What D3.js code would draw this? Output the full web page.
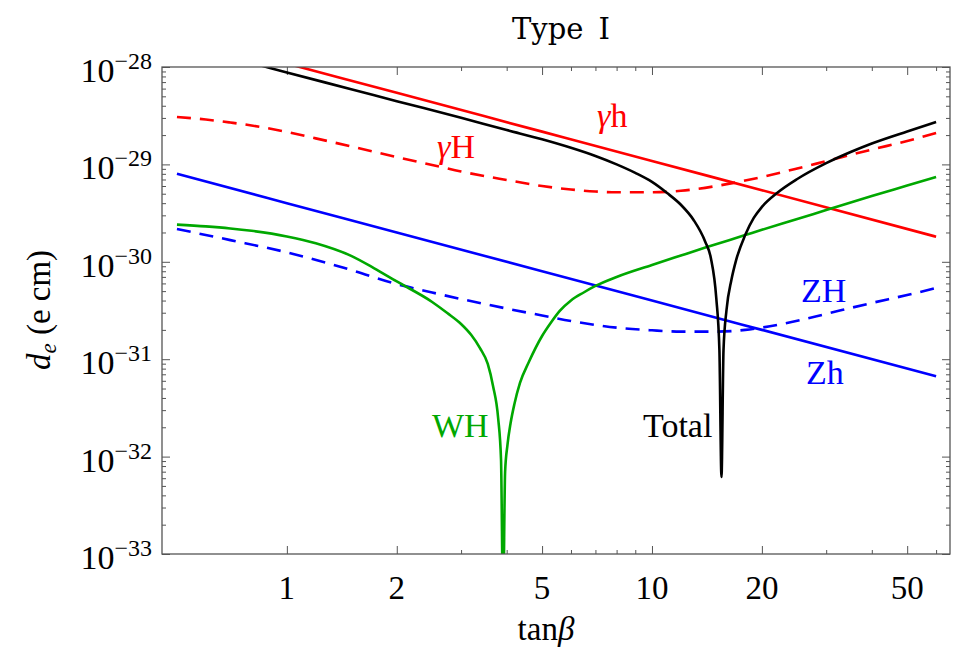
<!DOCTYPE html>
<html>
<head>
<meta charset="utf-8">
<script src="https://cdn.jsdelivr.net/npm/d3@7"></script>
<style>
  html, body { margin: 0; padding: 0; background: #fff; }
  svg { display: block; }
  text { font-family: "Liberation Serif", "Times New Roman", serif; }
</style>
</head>
<body>
<svg id="chart" width="962" height="650"></svg>
<script>
// ---------------- data ----------------
const title = "Type I";
const xTickMajor = [1, 2, 5, 10, 20, 50];
const xTickMinor = [3, 4, 6, 7, 8, 9, 30, 40, 60];
const yTickExp = [-28, -29, -30, -31, -32, -33];

// gamma h (solid red)
const gammaH_t = [0.5, 1, 2, 5, 10, 20, 60];
const gammaH_v = [2.17e-28, 1.085e-28, 5.43e-29, 2.17e-29, 1.085e-29, 5.43e-30, 1.81e-30];

// gamma H (dashed red)
const gammaHH_t = [0.5, 0.6, 0.7, 0.8, 1, 1.2, 1.5, 2, 2.5, 3, 4, 5, 6, 7, 8, 10, 12, 15, 20, 25, 30, 40, 50, 60];
const gammaHH_v = [3.07e-29, 2.89e-29, 2.69e-29, 2.51e-29, 2.15e-29, 1.85e-29, 1.53e-29, 1.19e-29, 9.86e-30, 8.45e-30,
                   6.92e-30, 6.00e-30, 5.52e-30, 5.27e-30, 5.17e-30, 5.17e-30, 5.36e-30, 6.00e-30, 7.43e-30, 9.08e-30,
                   1.08e-29, 1.42e-29, 1.74e-29, 2.10e-29];

// Z h (solid blue)
const Zh_t = [0.5, 1, 2, 5, 10, 20, 60];
const Zh_v = [8.0e-30, 4.0e-30, 2.0e-30, 8.0e-31, 4.0e-31, 2.0e-31, 6.67e-32];

// Z H (dashed blue)
const ZH_t = [0.5, 0.7, 1, 1.5, 2, 2.5, 3, 4, 5, 6, 8, 10, 12, 15, 18, 20, 25, 30, 40, 50, 60];
const ZH_v = [2.17e-30, 1.67e-30, 1.25e-30, 8.24e-31, 5.91e-31, 4.84e-31, 4.15e-31, 3.31e-31, 2.81e-31, 2.47e-31,
              2.11e-31, 1.98e-31, 1.92e-31, 1.92e-31, 2.00e-31, 2.11e-31, 2.48e-31, 2.92e-31, 3.78e-31, 4.56e-31, 5.38e-31];

// W H (green)
const WH_t = [0.5, 0.6, 0.7, 0.8, 1, 1.2, 1.5, 1.73, 2, 2.5, 2.75, 3, 3.2, 3.38, 3.55, 3.67, 3.79, 3.86, 3.91, 3.96, 4.02,
              4.1, 4.2, 4.35, 4.6, 5.0, 5.29, 5.59, 6, 6.5, 7, 8, 10, 12, 14, 18, 20, 25, 30, 40, 50, 60];
const WH_v = [2.41e-30, 2.31e-30, 2.20e-30, 2.08e-30, 1.82e-30, 1.55e-30, 1.15e-30, 8.63e-31, 6.28e-31, 3.87e-31, 2.98e-31,
              2.30e-31, 1.77e-31, 1.30e-31, 8.93e-32, 5.31e-32, 2.49e-32, 9.22e-33, 3e-34, 6.95e-33, 1.32e-32,
              2.21e-32, 3.47e-32, 5.70e-32, 9.35e-32, 1.73e-31, 2.38e-31, 3.13e-31, 4.01e-31, 4.84e-31, 5.65e-31,
              6.98e-31, 9.27e-31, 1.16e-30, 1.40e-30, 1.88e-30, 2.13e-30, 2.75e-30, 3.40e-30, 4.74e-30, 6.07e-30,
              7.43e-30];

// Total (black)
const Total_t = [0.5, 0.6, 0.7, 0.8, 1, 1.5, 2, 3, 4, 5, 6, 7, 8, 9, 10, 11, 12, 13, 14, 14.5, 15, 15.3, 15.5, 15.7,
                 16, 16.5, 17, 18, 19, 20, 22, 25, 30, 35, 40, 50, 60];
const Total_v = [1.74e-28, 1.45e-28, 1.25e-28, 1.10e-28, 8.78e-29, 5.92e-29, 4.46e-29, 3.01e-29, 2.25e-29, 1.81e-29,
                 1.48e-29, 1.22e-29, 1.00e-29, 8.18e-30, 6.61e-30, 5.08e-30, 3.85e-30, 2.69e-30, 1.60e-30,
                 1.09e-30, 4.25e-31, 1.24e-31, 6.18e-33, 1.24e-31, 3.20e-31, 6.50e-31, 1.04e-30, 1.88e-30, 2.82e-30,
                 3.66e-30, 5.08e-30, 7.08e-30, 1.03e-29, 1.34e-29, 1.64e-29, 2.18e-29, 2.72e-29];

const series = [
  { name: "γh",    t: gammaH_t,  v: gammaH_v,  color: "#ff0000", dash: null },
  { name: "γH",    t: gammaHH_t, v: gammaHH_v, color: "#ff0000", dash: "14,9" },
  { name: "Zh",    t: Zh_t,      v: Zh_v,      color: "#0000ff", dash: null },
  { name: "ZH",    t: ZH_t,      v: ZH_v,      color: "#0000ff", dash: "14,9" },
  { name: "WH",    t: WH_t,      v: WH_v,      color: "#00a800", dash: null },
  { name: "Total", t: Total_t,   v: Total_v,   color: "#000000", dash: null }
];

const curveLabels = [
  { parts: [["γ", true], ["h", false]], color: "#ff0000", x: 597, y: 127 },
  { parts: [["γ", true], ["H", false]], color: "#ff0000", x: 437, y: 158 },
  { parts: [["ZH", false]], color: "#0000ff", x: 801, y: 302 },
  { parts: [["Zh", false]], color: "#0000ff", x: 806, y: 384 },
  { parts: [["WH", false]], color: "#00a800", x: 432, y: 437 },
  { parts: [["Total", false]], color: "#000000", x: 643, y: 437 }
];

// ---------------- drawing ----------------
const svg = d3.select("#chart");
const L = 162, R = 950, T = 67, B = 554;

const x = d3.scaleLog().domain([0.455, 65.5]).range([L, R]);
const y = d3.scaleLog().domain([1e-33, 1e-28]).range([B, T]);

svg.append("defs").append("clipPath").attr("id", "clip")
  .append("rect").attr("x", L).attr("y", T).attr("width", R - L).attr("height", B - T);

svg.append("text").attr("x", 561).attr("y", 39).attr("text-anchor", "middle")
  .style("font-family", "'DejaVu Serif', serif").style("font-size", "29px").style("word-spacing", "6px")
  .text(title);

const yMinor = [];
for (let e = -33; e < -28; e++) for (let k = 2; k <= 9; k++) yMinor.push(k * Math.pow(10, e));
const yMajor = yTickExp.map(e => Math.pow(10, e));

const frameColor = "#555";
function styleAxis(g) {
  g.select(".domain").remove();
  g.selectAll("line").attr("stroke", frameColor).attr("stroke-width", 1);
  g.selectAll("text").remove();
}
svg.append("g").attr("transform", `translate(0,${B})`).call(d3.axisBottom(x).tickValues(xTickMajor).tickSize(-8)).call(styleAxis);
svg.append("g").attr("transform", `translate(0,${B})`).call(d3.axisBottom(x).tickValues(xTickMinor).tickSize(-4)).call(styleAxis);
svg.append("g").attr("transform", `translate(0,${T})`).call(d3.axisTop(x).tickValues(xTickMajor).tickSize(-8)).call(styleAxis);
svg.append("g").attr("transform", `translate(0,${T})`).call(d3.axisTop(x).tickValues(xTickMinor).tickSize(-4)).call(styleAxis);
svg.append("g").attr("transform", `translate(${L},0)`).call(d3.axisLeft(y).tickValues(yMajor).tickSize(-8)).call(styleAxis);
svg.append("g").attr("transform", `translate(${L},0)`).call(d3.axisLeft(y).tickValues(yMinor).tickSize(-4)).call(styleAxis);
svg.append("g").attr("transform", `translate(${R},0)`).call(d3.axisRight(y).tickValues(yMajor).tickSize(-8)).call(styleAxis);
svg.append("g").attr("transform", `translate(${R},0)`).call(d3.axisRight(y).tickValues(yMinor).tickSize(-4)).call(styleAxis);

const line = d3.line().x(d => x(d[0])).y(d => y(d[1])).curve(d3.curveMonotoneX);
const gC = svg.append("g").attr("clip-path", "url(#clip)");
series.forEach(s => {
  const pts = s.t.map((t, i) => [t, s.v[i]]);
  gC.append("path").attr("d", line(pts)).attr("fill", "none")
    .attr("stroke", s.color).attr("stroke-width", 2.6)
    .attr("stroke-dasharray", s.dash).attr("stroke-linejoin", "round");
});

svg.append("rect").attr("x", L).attr("y", T).attr("width", R - L).attr("height", B - T)
  .attr("fill", "none").attr("stroke", frameColor).attr("stroke-width", 1.3);

xTickMajor.forEach(v => {
  svg.append("text").attr("x", x(v)).attr("y", 599).attr("text-anchor", "middle")
    .style("font-size", "33px").text(String(v));
});

yTickExp.forEach(e => {
  const t = svg.append("text").attr("x", 152).attr("y", y(Math.pow(10, e)) + 15).attr("text-anchor", "end")
    .style("font-size", "34px");
  t.append("tspan").text("10");
  t.append("tspan").attr("dy", -13).style("font-size", "24px").text("−" + String(-e));
});

const xl = svg.append("text").attr("x", 546).attr("y", 640).attr("text-anchor", "middle").style("font-size", "33px");
xl.append("tspan").text("tan");
xl.append("tspan").style("font-style", "italic").text("β");

const yl = svg.append("text").attr("transform", "translate(50,310) rotate(-90)").attr("text-anchor", "middle")
  .style("font-size", "33px");
yl.append("tspan").style("font-style", "italic").text("d");
yl.append("tspan").style("font-style", "italic").style("font-size", "23px").attr("dy", 6).text("e");
yl.append("tspan").attr("dy", -6).text(" (e cm)");

curveLabels.forEach(lb => {
  const t = svg.append("text").attr("x", lb.x).attr("y", lb.y).attr("fill", lb.color).style("font-size", "34px");
  lb.parts.forEach(p => t.append("tspan").style("font-style", p[1] ? "italic" : "normal").text(p[0]));
});
</script>
</body>
</html>
